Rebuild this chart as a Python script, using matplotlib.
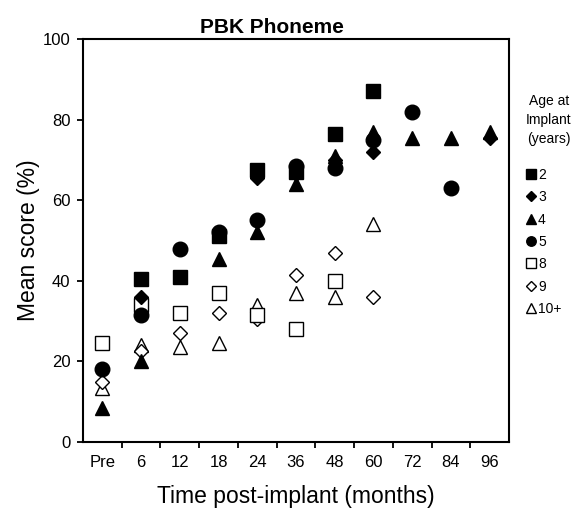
import matplotlib.pyplot as plt
import numpy as np

plt.rcParams['font.family'] = ['Liberation Sans', 'DejaVu Sans']

# Datos
time_labels = ['Pre', '6', '12', '18', '24', '36', '48', '60', '72', '84', '96']
age_groups = ['2', '3', '4', '5', '8', '9', '10+']

# Mean score (%) per age at implant, None = no point
score_2 = [None, 40.5, 41, 51, 67.5, 67, 76.5, 87, None, None, None]
score_3 = [None, 36, None, None, 65.5, 66.5, 70, 72, None, None, 75.5]
score_4 = [8.5, 20, None, 45.5, 52, 64, 71, 77, 75.5, 75.5, 77]
score_5 = [18, 31.5, 48, 52, 55, 68.5, 68, 75, 82, 63, None]
score_8 = [24.5, 34, 32, 37, 31.5, 28, 40, None, None, None, None]
score_9 = [15, 22.5, 27, 32, 30.5, 41.5, 47, 36, None, None, None]
score_10 = [13.5, 24, 23.5, 24.5, 34, 37, 36, 54, None, None, None]

x = np.arange(len(time_labels))

fig = plt.figure(figsize=(5.74, 5.11), dpi=100)
ax = fig.add_axes([0.1446, 0.135, 0.7422, 0.7886])

# open markers first, filled ones on top
open_kw = dict(linestyle='none', color='black', markerfacecolor='white', markeredgewidth=1.0)
fill_kw = dict(linestyle='none', color='black')
h10, = ax.plot(x, np.array(score_10, dtype=float), marker='^', markersize=10.5, **open_kw)
h9, = ax.plot(x, np.array(score_9, dtype=float), marker='D', markersize=7.5, **open_kw)
h8, = ax.plot(x, np.array(score_8, dtype=float), marker='s', markersize=10.5, **open_kw)
h5, = ax.plot(x, np.array(score_5, dtype=float), marker='o', markersize=10.5, **fill_kw)
h4, = ax.plot(x, np.array(score_4, dtype=float), marker='^', markersize=10.5, **fill_kw)
h3, = ax.plot(x, np.array(score_3, dtype=float), marker='D', markersize=7.5, **fill_kw)
h2, = ax.plot(x, np.array(score_2, dtype=float), marker='s', markersize=10.5, **fill_kw)

ax.set_xlim(-0.5, len(time_labels) - 0.5)
ax.set_ylim(0, 100)
ax.set_yticks([0, 20, 40, 60, 80, 100])
ax.set_xticks(x)
ax.set_xticklabels(time_labels)
ax.set_xticks(np.arange(0.5, len(time_labels) - 1, 1), minor=True)
ax.tick_params(axis='x', which='major', length=0, pad=9, labelsize=12)
ax.tick_params(axis='x', which='minor', length=4, width=1.3, direction='out')
ax.tick_params(axis='y', length=4, width=1.3, direction='out', pad=5, labelsize=12)
for s in ax.spines.values():
    s.set_linewidth(1.5)

ax.set_xlabel('Time post-implant (months)', fontsize=16.5, labelpad=11)
ax.set_ylabel('Mean score (%)', fontsize=16.5, labelpad=2)
fig.text(272 / 574, 1 - 33 / 511, 'PBK Phoneme', ha='center', va='baseline',
         fontsize=15, fontweight='bold')

# legend
fig.text(549 / 574, 1 - 120 / 511, 'Age at\nImplant\n(years)', ha='center', va='center',
         fontsize=10, linespacing=1.5)
ax.legend([h2, h3, h4, h5, h8, h9, h10], age_groups, loc='upper left',
          bbox_to_anchor=(527 / 574, 1 - 168 / 511), bbox_transform=fig.transFigure,
          frameon=False, fontsize=10, markerscale=0.65, handlelength=0.6,
          handletextpad=0.2, labelspacing=0.6, borderaxespad=0, borderpad=0)

fig.savefig('out.png', dpi=100)
